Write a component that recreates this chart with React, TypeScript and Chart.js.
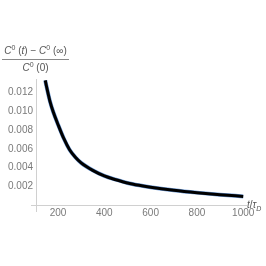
import React, { useEffect, useRef } from "react";
import { Chart, registerables } from "chart.js";

Chart.register(...registerables);

const tValues = [145, 150, 165, 180, 200, 225, 250, 275, 300, 350, 400, 450, 500, 550, 600, 700, 800, 900, 1000];
const ratioValues = [0.0133, 0.0127, 0.0111, 0.0099, 0.0086, 0.0071, 0.0059, 0.0051, 0.0045, 0.0037, 0.0031, 0.0027, 0.00235, 0.0021, 0.0019, 0.00158, 0.00132, 0.0011, 0.00092];
const xTicks = [200, 400, 600, 800, 1000];
const yTicks = [0.002, 0.004, 0.006, 0.008, 0.01, 0.012];

const FONT = "'Liberation Sans', Arial, sans-serif";
const AXIS = "#d0d0d0";

const axisOverhang = {
  id: "axisOverhang",
  afterDraw(chart: any) {
    const { ctx, chartArea } = chart;
    ctx.save();
    ctx.strokeStyle = AXIS;
    ctx.lineWidth = 1;
    ctx.beginPath();
    ctx.moveTo(chartArea.left - 5, chartArea.bottom + 0.5);
    ctx.lineTo(chartArea.left, chartArea.bottom + 0.5);
    ctx.moveTo(chartArea.left + 0.5, chartArea.bottom);
    ctx.lineTo(chartArea.left + 0.5, chartArea.bottom + 7);
    ctx.stroke();
    ctx.restore();
  },
};

export default function App() {
  const ref = useRef<HTMLCanvasElement | null>(null);

  useEffect(() => {
    if (!ref.current) return;
    const pts = tValues.map((t, i) => ({ x: t, y: ratioValues[i] }));
    const chart = new Chart(ref.current, {
      type: "line",
      data: {
        datasets: [
          {
            data: pts,
            borderColor: "#000000",
            borderWidth: 3,
            pointRadius: 0,
            cubicInterpolationMode: "monotone",
            fill: false,
            order: 0,
          },
          {
            data: pts,
            borderColor: "#6d9ad6",
            borderWidth: 4,
            pointRadius: 0,
            cubicInterpolationMode: "monotone",
            fill: false,
            order: 1,
          },
        ],
      },
      options: {
        animation: false,
        responsive: false,
        maintainAspectRatio: false,
        layout: { padding: { left: 0, top: 79, right: 20, bottom: 0 } },
        plugins: { legend: { display: false }, tooltip: { enabled: false } },
        scales: {
          x: {
            type: "linear",
            min: 105,
            max: 1012,
            grid: { display: false, drawTicks: false },
            border: { display: true, color: AXIS, width: 1 },
            afterBuildTicks: (s: any) => {
              s.ticks = xTicks.map((v) => ({ value: v }));
            },
            afterFit: (s: any) => {
              s.height = 61;
            },
            ticks: {
              color: "#7a7a7a",
              font: { family: FONT, size: 10 },
              padding: 2,
              maxRotation: 0,
              autoSkip: false,
              callback: (v: any) => String(v),
            },
          },
          y: {
            type: "linear",
            min: 0,
            max: 0.01345,
            grid: { display: false, drawTicks: false },
            border: { display: true, color: AXIS, width: 1 },
            afterBuildTicks: (s: any) => {
              s.ticks = yTicks.map((v) => ({ value: v }));
            },
            afterFit: (s: any) => {
              s.width = 36;
            },
            ticks: {
              color: "#7a7a7a",
              font: { family: FONT, size: 10 },
              padding: 3,
              autoSkip: false,
              callback: (v: any) => Number(v).toFixed(3),
            },
          },
        },
      },
      plugins: [axisOverhang],
    });
    return () => chart.destroy();
  }, []);

  const sup: React.CSSProperties = { fontSize: 7, verticalAlign: "super", lineHeight: 0 };
  return (
    <div style={{ position: "fixed", left: 0, top: 0, width: 266, height: 266, background: "#fff" }}>
      <canvas ref={ref} width={266} height={266} style={{ position: "absolute", left: 0, top: 0 }} />
      <div
        style={{
          position: "absolute",
          left: 2,
          top: 45,
          width: 67,
          fontFamily: FONT,
          fontSize: 10,
          color: "#555",
          textAlign: "center",
          lineHeight: "12px",
          whiteSpace: "nowrap",
        }}
      >
        <div style={{ borderBottom: "1px solid #888", paddingBottom: 2 }}>
          <i>C</i><span style={sup}>0</span> (<i>t</i>) − <i>C</i><span style={sup}>0</span> (∞)
        </div>
        <div style={{ paddingTop: 2 }}>
          <i>C</i><span style={sup}>0</span> (0)
        </div>
      </div>
      <div
        style={{
          position: "absolute",
          left: 247,
          top: 199,
          fontFamily: FONT,
          fontSize: 10,
          color: "#555",
          whiteSpace: "nowrap",
        }}
      >
        <i>t</i>/<i>τ</i><sub style={{ fontSize: 7 }}><i>D</i></sub>
      </div>
    </div>
  );
}
